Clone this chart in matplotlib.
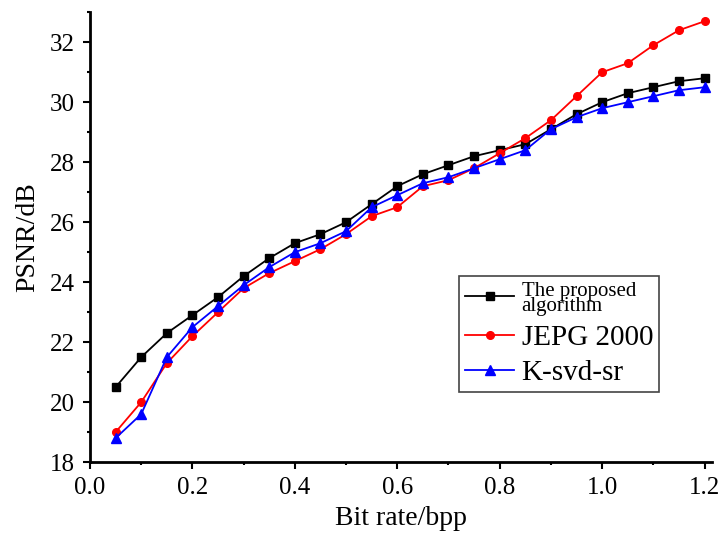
import numpy as np
import matplotlib.pyplot as plt

bit_rate = [0.05, 0.10, 0.15, 0.20, 0.25, 0.30, 0.35, 0.40, 0.45, 0.50, 0.55, 0.60,
            0.65, 0.70, 0.75, 0.80, 0.85, 0.90, 0.95, 1.00, 1.05, 1.10, 1.15, 1.20]
psnr_proposed = [20.5, 21.5, 22.3, 22.9, 23.5, 24.2, 24.8, 25.3, 25.6, 26.0, 26.6, 27.2,
                 27.6, 27.9, 28.2, 28.4, 28.6, 29.1, 29.6, 30.0, 30.3, 30.5, 30.7, 30.8]
psnr_jpeg2000 = [19.0, 20.0, 21.3, 22.2, 23.0, 23.8, 24.3, 24.7, 25.1, 25.6, 26.2, 26.5,
                 27.2, 27.4, 27.8, 28.3, 28.8, 29.4, 30.2, 31.0, 31.3, 31.9, 32.4, 32.7]
psnr_ksvd = [18.8, 19.6, 21.5, 22.5, 23.2, 23.9, 24.5, 25.0, 25.3, 25.7, 26.5, 26.9,
             27.3, 27.5, 27.8, 28.1, 28.4, 29.1, 29.5, 29.8, 30.0, 30.2, 30.4, 30.5]
labels = ['The proposed\nalgorithm', 'JEPG 2000', 'K-svd-sr']

plt.rcParams['font.family'] = ['Liberation Serif', 'DejaVu Serif']

fig = plt.figure(figsize=(7.26, 5.33), dpi=100)
ax = fig.add_axes([0.124, 0.133, 0.857, 0.844])

ax.plot(bit_rate, psnr_proposed, color='black', marker='s', markersize=5.5, lw=1.3, label=labels[0])
ax.plot(bit_rate, psnr_jpeg2000, color='red', marker='o', markersize=5.5, lw=1.3, label=labels[1])
ax.plot(bit_rate, psnr_ksvd, color='blue', marker='^', markersize=7, lw=1.3, label=labels[2])

ax.set_xlim(0, 1.215)
ax.set_ylim(18, 33)
ax.set_xticks(np.arange(0, 1.21, 0.2))
ax.set_xticks(np.arange(0.1, 1.21, 0.2), minor=True)
ax.set_yticks(np.arange(18, 33, 2))
ax.set_yticks(np.arange(19, 33.1, 2), minor=True)
ax.xaxis.set_major_formatter(plt.FormatStrFormatter('%.1f'))

for s in ['top', 'right']:
    ax.spines[s].set_visible(False)
for s in ['left', 'bottom']:
    ax.spines[s].set_linewidth(2)
ax.tick_params(which='major', direction='out', length=5, width=1.5, labelsize=18, pad=6)
ax.tick_params(which='minor', direction='out', length=2.5, width=1.5)

ax.set_xlabel('Bit rate/bpp', fontsize=20, labelpad=5)
ax.set_ylabel('PSNR/dB', fontsize=20, labelpad=7)

leg = ax.legend(loc='upper left', bbox_to_anchor=(0.593, 0.413), fontsize=21,
                fancybox=False, edgecolor='#444444', framealpha=1,
                handlelength=1.7, borderpad=0.2, borderaxespad=0, labelspacing=0.3,
                handletextpad=0.25)
leg.get_frame().set_linewidth(1.2)
leg.get_texts()[0].set_fontsize(15)
leg.get_texts()[0].set_linespacing(0.7)

fig.savefig('out.png', dpi=100)
